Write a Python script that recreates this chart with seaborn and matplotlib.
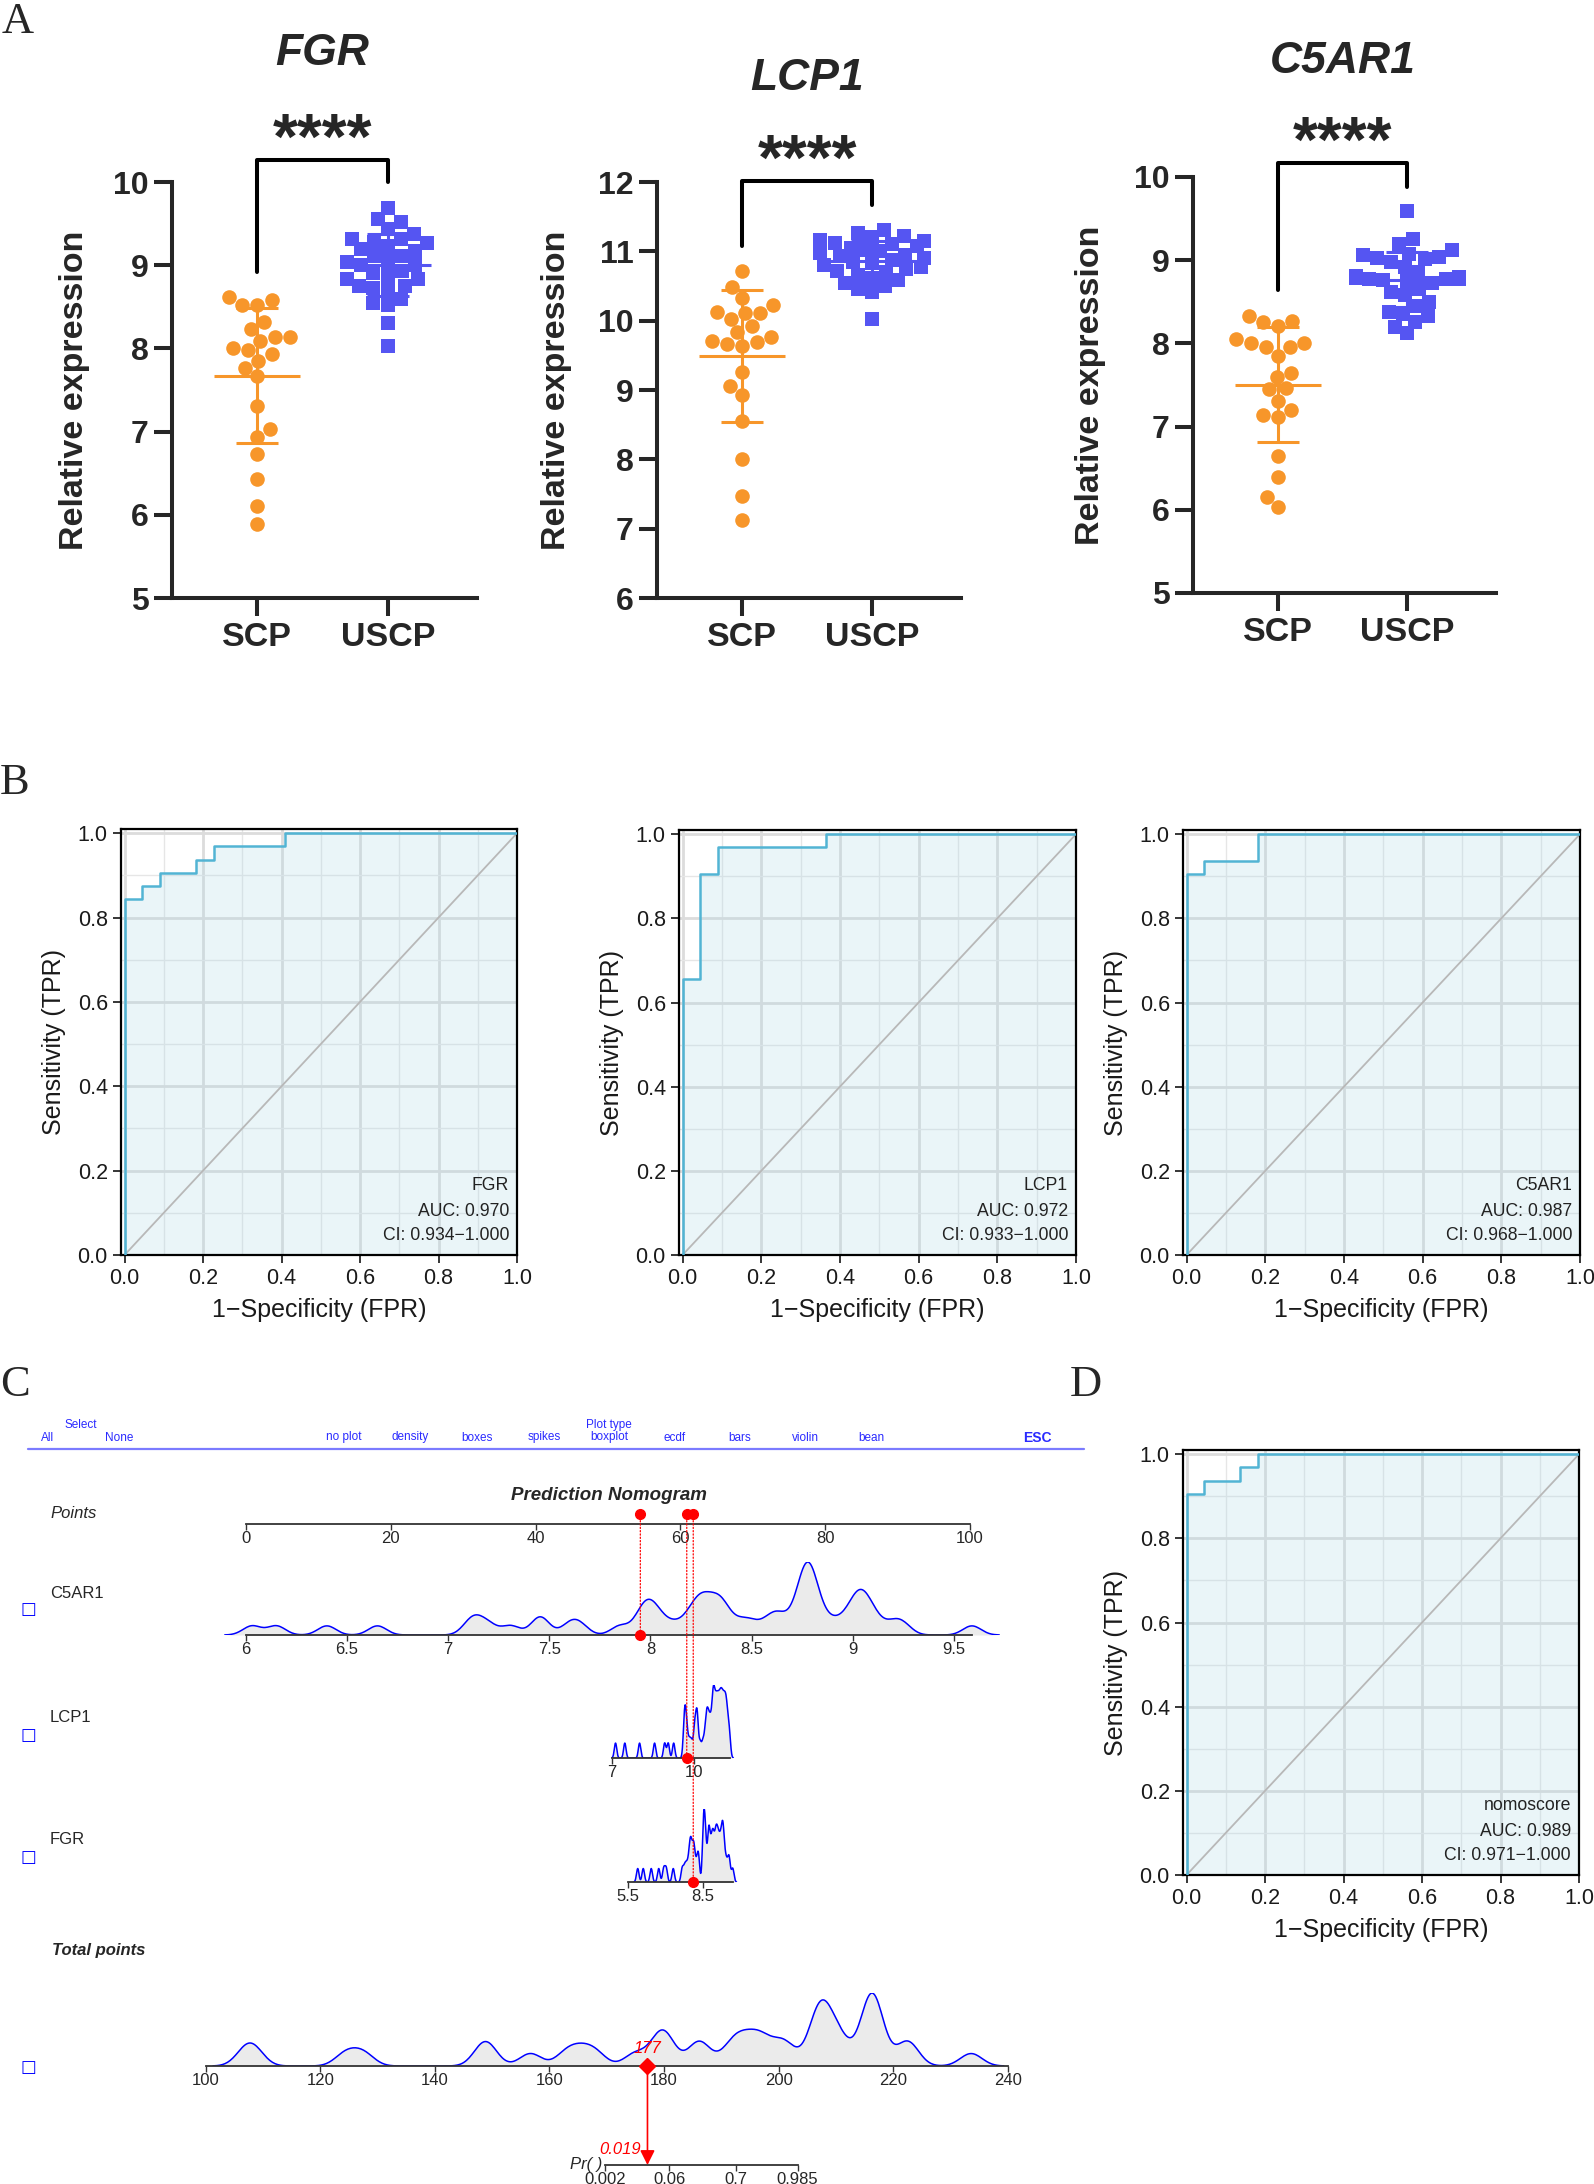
import numpy as np
import pandas as pd
import matplotlib
matplotlib.use("Agg")
import matplotlib.pyplot as plt
import seaborn as sns
from matplotlib.patches import ConnectionPatch
from matplotlib.lines import Line2D

# ---------------- values ----------------
groups = ["SCP", "USCP"]

fgr_scp = [8.52, 8.62, 8.58, 8.52, 8.32, 8.23, 8.14, 8.14, 8.09, 8.01, 7.98,
           7.93, 7.85, 7.77, 7.67, 7.31, 7.03, 6.93, 6.73, 6.43, 6.11, 5.89]
fgr_uscp = [9.69, 9.56, 9.52, 9.44, 9.38, 9.32, 9.31, 9.28, 9.27, 9.23, 9.19,
            9.17, 9.11, 9.11, 9.06, 9.04, 9.00, 9.00, 8.93, 8.91, 8.89, 8.84,
            8.83, 8.75, 8.75, 8.72, 8.72, 8.59, 8.54, 8.52, 8.31, 8.03]
lcp1_scp = [10.71, 10.49, 10.33, 10.23, 10.11, 10.13, 10.11, 10.03, 9.92, 9.84,
            9.69, 9.76, 9.64, 9.66, 9.71, 9.26, 9.06, 8.93, 8.56, 8.01, 7.47, 7.13]
lcp1_uscp = [11.31, 11.27, 11.22, 11.20, 11.17, 11.15, 11.12, 11.10, 11.07, 11.05,
             11.02, 11.00, 10.98, 10.95, 10.93, 10.90, 10.88, 10.85, 10.83, 10.80,
             10.78, 10.75, 10.72, 10.70, 10.66, 10.62, 10.58, 10.55, 10.50, 10.45,
             10.41, 10.03]
c5ar1_scp = [8.33, 8.26, 8.27, 8.21, 8.00, 8.05, 7.96, 7.96, 8.01, 7.85, 7.60,
             7.65, 7.45, 7.46, 7.31, 7.20, 7.11, 7.14, 6.65, 6.40, 6.15, 6.03]
c5ar1_uscp = [9.59, 9.25, 9.20, 9.12, 9.08, 9.06, 9.04, 9.03, 9.01, 8.98, 8.92,
              8.86, 8.81, 8.80, 8.79, 8.78, 8.78, 8.77, 8.76, 8.75, 8.72, 8.65,
              8.62, 8.58, 8.50, 8.45, 8.38, 8.35, 8.33, 8.26, 8.20, 8.12]

# ROC step curves as counts (22 SCP negatives, 32 USCP positives)
n_neg, n_pos = 22, 32
fgr_fp = [0, 0, 1, 1, 2, 2, 4, 4, 5, 5, 9, 9, 22]
fgr_tp = [0, 27, 27, 28, 28, 29, 29, 30, 30, 31, 31, 32, 32]
lcp1_fp = [0, 0, 1, 1, 2, 2, 8, 8, 22]
lcp1_tp = [0, 21, 21, 29, 29, 31, 31, 32, 32]
c5ar1_fp = [0, 0, 1, 1, 4, 4, 22]
c5ar1_tp = [0, 29, 29, 30, 30, 32, 32]
nomo_fp = [0, 0, 1, 1, 3, 3, 4, 4, 22]
nomo_tp = [0, 29, 29, 30, 30, 31, 31, 32, 32]
roc_names = ["FGR", "LCP1", "C5AR1", "nomoscore"]
roc_auc = ["AUC: 0.970", "AUC: 0.972", "AUC: 0.987", "AUC: 0.989"]
roc_ci = ["CI: 0.934\u22121.000", "CI: 0.933\u22121.000", "CI: 0.968\u22121.000",
          "CI: 0.971\u22121.000"]

# nomogram scales: points = base_points + slope * (value - base_value)
nomo_vars = ["C5AR1", "LCP1", "FGR"]
nomo_base_value = [6.0, 7.0, 5.5]
nomo_base_points = [0.0, 50.55, 52.76]
nomo_slope = [27.93, 3.77, 3.453]
nomo_ticks = [[6, 6.5, 7, 7.5, 8, 8.5, 9, 9.5], [7, 10], [5.5, 8.5]]
patient = [7.95, 9.74, 8.11]          # red case: C5AR1, LCP1, FGR
points_ticks = [0, 20, 40, 60, 80, 100]
total_ticks = [100, 120, 140, 160, 180, 200, 220, 240]
pr_ticks = [0.002, 0.06, 0.7, 0.985]
logit_mid, logit_slope = 189.8, 0.31
total_points = [107.0, 108.5, 124.5, 127.5, 148.5, 149.2, 156.7, 163.0, 165.5,
                168.0, 175.0, 179.0, 179.8, 180.5, 185.8, 186.5, 191.5, 193.0,
                194.5, 196.5, 197.3, 200.3, 201.5, 206.5, 207.0, 207.3, 207.7,
                208.2, 210.3, 211.0, 215.6, 216.0, 216.2, 216.4, 216.7, 217.0,
                222.2, 222.8, 233.6]

# ---------------- figure ----------------
W, H, DPI = 1594, 2184, 100
sns.set_style("ticks")
plt.rcParams["font.family"] = ["Liberation Sans", "DejaVu Sans"]
fig = plt.figure(figsize=(W / DPI, H / DPI), dpi=DPI)

ORANGE = "#F7962A"
BLUE = "#5555F2"
ROC_COL = "#52B4D4"


def frac(l, t, r, b):
    return [l / W, 1 - b / H, (r - l) / W, (b - t) / H]


def ftext(x, y, s, **kw):
    return fig.text(x / W, 1 - y / H, s, **kw)


# panel letters
for letter, x, y in [("A", 2, 33), ("B", 0, 794), ("C", 0, 1396), ("D", 1070, 1396)]:
    ftext(x, y, letter, family="Liberation Serif", fontsize=32, va="baseline")

# ---------------- A: scatter dot plots ----------------
panels_a = [
    ("FGR", fgr_scp, fgr_uscp, (172, 182, 477, 598), (5, 10), -0.27,
     dict(top=10.26, scp=8.92, uscp=10.0, title=11.54)),
    ("LCP1", lcp1_scp, lcp1_uscp, (657, 182, 961, 598), (6, 12), -0.28,
     dict(top=12.01, scp=11.08, uscp=11.67, title=13.5)),
    ("C5AR1", c5ar1_scp, c5ar1_uscp, (1193, 177, 1496, 593), (5, 10), -0.287,
     dict(top=10.17, scp=8.64, uscp=9.88, title=11.39)),
]

for gene, scp, uscp, box, (y0, y1), ylab_x, ann in panels_a:
    ax = fig.add_axes(frac(*box))
    df = pd.DataFrame({"group": ["SCP"] * len(scp) + ["USCP"] * len(uscp),
                       "value": scp + uscp})
    sns.swarmplot(data=df[df.group == "SCP"], x="group", y="value", order=groups,
                  color=ORANGE, marker="o", size=10.5, linewidth=0, ax=ax, zorder=3)
    sns.swarmplot(data=df[df.group == "USCP"], x="group", y="value", order=groups,
                  color=BLUE, marker="s", size=10, linewidth=0, ax=ax, zorder=3)
    for i, (g, col) in enumerate(zip(groups, [ORANGE, BLUE])):
        v = df.loc[df.group == g, "value"]
        m, s = v.mean(), v.std()
        z = 4 if g == "SCP" else 2
        ax.errorbar(i, m, yerr=s, fmt="none", ecolor=col, elinewidth=2.2,
                    capsize=15, capthick=2.2, zorder=z)
        ax.hlines(m, i - 0.33, i + 0.33, color=col, lw=2.2, zorder=z)
    ax.set_xlim(-0.655, 1.685)
    ax.set_ylim(y0, y1)
    ax.set_yticks(range(y0, y1 + 1))
    sns.despine(ax=ax)
    for sp in ["left", "bottom"]:
        ax.spines[sp].set_linewidth(2.9)
    ax.tick_params(length=13, width=2.9, pad=4)
    ax.tick_params(axis="y", labelsize=23)
    ax.tick_params(axis="x", labelsize=24.5)
    for lab in ax.get_xticklabels() + ax.get_yticklabels():
        lab.set_fontweight("bold")
    ax.set_xlabel("")
    ax.set_ylabel("Relative expression", fontsize=24.5, fontweight="bold")
    ax.yaxis.set_label_coords(ylab_x, 0.5)
    ax.plot([0, 0, 1, 1], [ann["scp"], ann["top"], ann["top"], ann["uscp"]],
            color="black", lw=2.9, clip_on=False)
    ax.annotate("****", (0.5, ann["top"]), xytext=(0, 1), textcoords="offset points",
                ha="center", va="baseline", fontsize=46, fontweight="bold",
                annotation_clip=False)
    ax.text(0.5, ann["title"], gene, ha="center", va="center", fontsize=32,
            fontweight="bold", style="italic", clip_on=False)

# ---------------- B / D: ROC curves ----------------
roc_boxes = [(121, 829, 517, 1255), (679, 830, 1076, 1255),
             (1183, 830, 1580, 1255), (1183, 1450, 1579, 1875)]
roc_fps = [fgr_fp, lcp1_fp, c5ar1_fp, nomo_fp]
roc_tps = [fgr_tp, lcp1_tp, c5ar1_tp, nomo_tp]

for box, fp, tp, name, auc, ci in zip(roc_boxes, roc_fps, roc_tps, roc_names,
                                      roc_auc, roc_ci):
    ax = fig.add_axes(frac(*box))
    fpr = np.array(fp) / n_neg
    tpr = np.array(tp) / n_pos
    ax.fill_between(fpr, tpr, 0, color="lightblue", alpha=0.25, lw=0, zorder=1)
    ax.plot([0, 1], [0, 1], color="#b8b8b8", lw=1.3, zorder=2)
    sns.lineplot(x=fpr, y=tpr, sort=False, estimator=None, color=ROC_COL, lw=1.8,
                 ax=ax, zorder=3)
    ticks = np.arange(0, 1.01, 0.2)
    ax.set_xticks(ticks)
    ax.set_yticks(ticks)
    ax.set_xticks(np.arange(0.1, 1.0, 0.2), minor=True)
    ax.set_yticks(np.arange(0.1, 1.0, 0.2), minor=True)
    ax.set_xticklabels([f"{t:.1f}" for t in ticks])
    ax.set_yticklabels([f"{t:.1f}" for t in ticks])
    ax.set_xlim(-0.009, 1.0)
    ax.set_ylim(0, 1.01)
    ax.set_axisbelow(True)
    ax.grid(which="major", color="#dcdcdc", lw=2.0)
    ax.grid(which="minor", color="#e6e6e6", lw=1.0)
    for sp in ax.spines.values():
        sp.set_linewidth(1.6)
        sp.set_color("black")
    ax.tick_params(which="major", length=6, width=1.3, labelsize=15.5,
                   labelcolor="#1a1a1a", direction="out")
    ax.tick_params(which="minor", length=0)
    ax.set_xlabel("1\u2212Specificity (FPR)", fontsize=18, color="#1a1a1a", labelpad=6)
    ax.set_ylabel("Sensitivity (TPR)", fontsize=18, color="#1a1a1a", labelpad=8)
    for s, yf in [(name, 0.164), (auc, 0.103), (ci, 0.045)]:
        ax.text(0.98, yf, s, transform=ax.transAxes, ha="right", va="center",
                fontsize=12.7, color="#222222")

# ---------------- C: nomogram ----------------
# header (regplot widget bar)
for s, x, y in [("Select", 81, 1425), ("All", 48, 1438), ("None", 119, 1438),
                ("no plot", 344, 1437), ("density", 410, 1437), ("boxes", 477, 1438),
                ("spikes", 544, 1437), ("Plot type", 609, 1425), ("boxplot", 609, 1437),
                ("ecdf", 675, 1438), ("bars", 740, 1438), ("violin", 805, 1438),
                ("bean", 871, 1438)]:
    ftext(x, y, s, ha="center", va="center", fontsize=8.5, color="#2a2aff")
ftext(1037, 1438, "ESC", ha="center", va="center", fontsize=10, fontweight="bold",
      color="#2a2aff")
fig.add_artist(Line2D([28 / W, 1084 / W], [1 - 1449 / H] * 2, color="#7b7bff", lw=1.6))

ftext(609, 1495, "Prediction Nomogram", ha="center", va="center", fontsize=13.5,
      fontweight="bold", style="italic")
ftext(50, 1513, "Points", ha="left", va="center", fontsize=12, style="italic")
ftext(52, 1951, "Total points", ha="left", va="center", fontsize=12,
      fontweight="bold", style="italic")

PTS_PX0, PTS_K = 246, 7.24      # pixel of 0 points, pixels per point
TOT_PX0, TOT_K = 205.6, 5.73    # pixel of 100 total points, pixels per point
NX0, NX1 = 150, 1050


def strip(base, height, lo, hi):
    a = fig.add_axes(frac(NX0, base - height, NX1, base))
    a.patch.set_alpha(0)
    for sp in ["top", "left", "right"]:
        a.spines[sp].set_visible(False)
    a.spines["bottom"].set_color("#333333")
    a.spines["bottom"].set_linewidth(1.3)
    a.spines["bottom"].set_zorder(4)
    a.set_yticks([])
    a.tick_params(axis="x", length=4, width=1, color="#333333", labelsize=12, pad=1,
                  direction="out")
    return a, (lo, hi)


def draw_density(a, vals, sigma):
    bw = sigma / np.std(vals, ddof=1)
    sns.kdeplot(x=vals, bw_method=bw, fill=True, color="#ebebeb", alpha=1,
                linewidth=0, gridsize=600, ax=a)
    sns.kdeplot(x=vals, bw_method=bw, color="blue", linewidth=1.1, gridsize=600, ax=a)
    a.set_ylim(0, a.lines[-1].get_ydata().max())
    a.set_xlabel("")
    a.set_ylabel("")


pts_lo = (NX0 - PTS_PX0) / PTS_K
pts_hi = (NX1 - PTS_PX0) / PTS_K
ax_pts, lim = strip(1524, 20, pts_lo, pts_hi)
ax_pts.set_xlim(*lim)
ax_pts.set_xticks(points_ticks)
ax_pts.spines["bottom"].set_bounds(0, 100)

patient_points = [bp + sl * (v - bv) for v, bv, bp, sl in
                  zip(patient, nomo_base_value, nomo_base_points, nomo_slope)]
ax_pts.plot(patient_points, [0] * 3, "o", color="red", ms=7, clip_on=False, zorder=6)

row_base = [1635, 1758, 1882]
row_label_y = [1593, 1717, 1839]
row_box_y = [1609, 1735, 1857]
row_sigma = [0.045, 0.045, 0.05]
row_data = [c5ar1_scp + c5ar1_uscp, lcp1_scp + lcp1_uscp, fgr_scp + fgr_uscp]

for k, name in enumerate(nomo_vars):
    bv, bp, sl = nomo_base_value[k], nomo_base_points[k], nomo_slope[k]
    lo = bv + (pts_lo - bp) / sl
    hi = bv + (pts_hi - bp) / sl
    a, lim = strip(row_base[k], 73, lo, hi)
    draw_density(a, row_data[k], row_sigma[k])
    a.set_xlim(*lim)
    a.set_xticks(nomo_ticks[k])
    a.set_xticklabels([f"{t:g}" for t in nomo_ticks[k]])
    a.spines["bottom"].set_bounds(bv, max(row_data[k]))
    a.plot(patient[k], 0, "o", color="red", ms=7, clip_on=False, zorder=6)
    con = ConnectionPatch(xyA=(patient_points[k], 0), coordsA=ax_pts.transData,
                          xyB=(patient[k], 0), coordsB=a.transData, color="red",
                          lw=0.9, ls=":", zorder=5)
    fig.add_artist(con)
    ftext(50, row_label_y[k], name, ha="left", va="center", fontsize=12)
    ftext(28, row_box_y[k], "\u25a1", ha="center", va="center", fontsize=12,
          color="blue", family="DejaVu Sans")

tot_lo = 100 + (NX0 - TOT_PX0) / TOT_K
tot_hi = 100 + (NX1 - TOT_PX0) / TOT_K
ax_tot, lim = strip(2066, 73, tot_lo, tot_hi)
draw_density(ax_tot, total_points, 1.9)
ax_tot.set_xlim(*lim)
ax_tot.set_xticks(total_ticks)
ax_tot.spines["bottom"].set_bounds(100, 240)
ftext(28, 2067, "\u25a1", ha="center", va="center", fontsize=12, color="blue",
      family="DejaVu Sans")

total = sum(patient_points)
prob = 1 / (1 + np.exp(-logit_slope * (total - logit_mid)))
ax_tot.plot(total, 0, "D", color="red", ms=8, clip_on=False, zorder=6)
ax_tot.annotate(f"{total:.0f}", (total, 0), xytext=(0, 7), textcoords="offset points",
                ha="center", va="bottom", color="red", style="italic", fontsize=12,
                annotation_clip=False)


def total_at(p):
    return logit_mid + np.log(p / (1 - p)) / logit_slope


ax_pr, lim = strip(2165, 20, tot_lo, tot_hi)
ax_pr.set_xlim(*lim)
ax_pr.set_xticks([total_at(p) for p in pr_ticks])
ax_pr.set_xticklabels([f"{p:g}" for p in pr_ticks])
ax_pr.spines["bottom"].set_bounds(total_at(pr_ticks[0]), total_at(pr_ticks[-1]))
ax_pr.text(total_at(pr_ticks[0]) - 0.5, 0, "Pr( )", ha="right", va="center",
           style="italic", fontsize=12, clip_on=False)
arrow = ConnectionPatch(xyA=(total, 0), coordsA=ax_tot.transData, xyB=(total, 0),
                        coordsB=ax_pr.transData, color="red", lw=1.2,
                        arrowstyle="-|>", mutation_scale=22, shrinkA=0, shrinkB=0,
                        zorder=5)
fig.add_artist(arrow)
ax_pr.annotate(f"{prob:.3f}", (total, 0), xytext=(-5, 6), textcoords="offset points",
               ha="right", va="bottom", color="red", style="italic", fontsize=12,
               annotation_clip=False)

fig.savefig("out.png", dpi=DPI)
